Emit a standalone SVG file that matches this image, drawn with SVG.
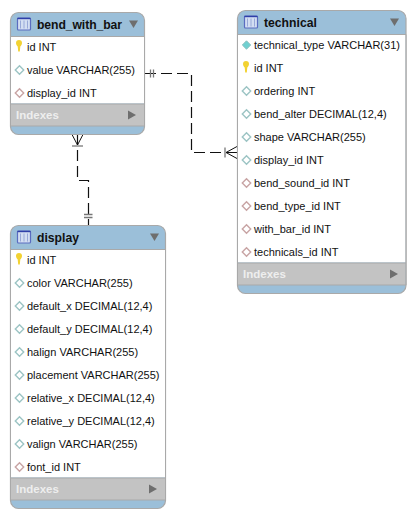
<svg xmlns="http://www.w3.org/2000/svg" width="415" height="518" viewBox="0 0 415 518">
<style>
.card{fill:#9bbfd9;stroke:#a9a9a9;stroke-width:1.2}
.body{fill:#fff}
.idx{fill:#c3c3c3}
.sep{stroke:#a9a9a9;stroke-width:1;fill:none}
.title{font:bold 12.2px "Liberation Sans",Arial,sans-serif;fill:#111}
.col{font:11px "Liberation Sans",Arial,sans-serif;fill:#111}
.ix{font:bold 11.5px "Liberation Sans",Arial,sans-serif;fill:#eee}
.tri{fill:#6e6e6e}
.plain{fill:#fff;stroke:#9cc4c4;stroke-width:1.4}
.fk{fill:#fff;stroke:#c8a4a4;stroke-width:1.4}
.pk{fill:#6fd0d0;stroke:#8fc0c0;stroke-width:1}
.key{fill:#f2d232}
.icon{fill:#d3def2;stroke:#5a6cc0;stroke-width:1.2}
.iconl{stroke:#98a8d8;stroke-width:1;fill:none}
.dash{fill:none;stroke:#111;stroke-width:1.2;stroke-dasharray:11 5}
.solid{fill:none;stroke:#111;stroke-width:1}
.bar{fill:none;stroke:#777;stroke-width:1.3}
</style>
<defs>
<g id="ticon"><rect x="0.5" y="0.5" width="13" height="12" rx="1" class="icon"/><path d="M0.5 1H13.500" stroke="#2f3fa8" stroke-width="1.4" fill="none"/><path d="M3.500 3v8M7 3v8M10.500 3v8" class="iconl"/></g>
<g id="keyi"><path class="key" d="M-3 -3.600a3 3 0 0 1 6 0c0 2-1.300 2.600-1.700 3.600l-.5 5h-1.600l-.5-5c-.4-1-1.700-1.600-1.700-3.600z"/></g>
<path id="dia" d="M0 -4.200L4.200 0L0 4.200L-4.200 0Z"/>
</defs>
<g id="connectors">
<path class="dash" d="M145 73.500H191.500V152.500H237"/>
<path class="dash" d="M77.500 134V180.500H88.500V225"/>
<path class="bar" d="M150.500 69.500V77.500M153.500 69.500V77.500"/>
<path class="bar" d="M225 147.500V157.500"/>
<path class="solid" d="M237 146.500L226 152.500L237 158.500"/>
<path class="bar" d="M72 146H83"/>
<path class="solid" d="M72 134.500L77.500 145L83 134.500"/>
<path class="bar" d="M84 214.500H92.500M84 217.500H92.500"/>
</g>
<g id="bend_with_bar">
<rect class="card" x="10.500" y="12.500" width="134" height="122" rx="8"/>
<rect class="body" x="11" y="36.500" width="133" height="67"/>
<rect class="idx" x="11" y="104" width="133" height="22"/>
<path class="sep" d="M10.500 36.500H144.500M10.500 104H144.500M10.500 126H144.500M10.500 36.500V126M144.500 36.500V126"/>
<use href="#ticon" x="17" y="17.500"/>
<text class="title" x="37" y="28.500" textLength="85">bend_with_bar</text>
<path class="tri" d="M129 20.500H138L133.500 28Z"/>
<use href="#keyi" x="19" y="46.500"/><text class="col" x="27" y="51">id INT</text>
<use href="#dia" x="19.500" y="70" class="plain"/><text class="col" x="27" y="74">value VARCHAR(255)</text>
<use href="#dia" x="19.500" y="93" class="fk"/><text class="col" x="27" y="97">display_id INT</text>
<text class="ix" x="16" y="119">Indexes</text>
<path class="tri" d="M128 110.500L136 115L128 119.500Z"/>
</g>
<g id="technical">
<rect class="card" x="237.500" y="10.500" width="168.500" height="283" rx="8"/>
<rect class="body" x="238" y="34.500" width="167.500" height="228"/>
<rect class="idx" x="238" y="263" width="167.500" height="22"/>
<path class="sep" d="M237.500 34.500H406M237.500 263H406M237.500 285H406M237.500 34.500V285M406 34.500V285"/>
<use href="#ticon" x="244" y="15.500"/>
<text class="title" x="264" y="26.500">technical</text>
<path class="tri" d="M390 18.500H399L394.500 26Z"/>
<use href="#dia" x="246.500" y="45" class="pk"/><text class="col" x="254" y="49">technical_type VARCHAR(31)</text>
<use href="#keyi" x="246" y="67.500"/><text class="col" x="254" y="72">id INT</text>
<use href="#dia" x="246.500" y="91" class="plain"/><text class="col" x="254" y="95">ordering INT</text>
<use href="#dia" x="246.500" y="114" class="plain"/><text class="col" x="254" y="118">bend_alter DECIMAL(12,4)</text>
<use href="#dia" x="246.500" y="137" class="plain"/><text class="col" x="254" y="141">shape VARCHAR(255)</text>
<use href="#dia" x="246.500" y="160" class="plain"/><text class="col" x="254" y="164">display_id INT</text>
<use href="#dia" x="246.500" y="183" class="fk"/><text class="col" x="254" y="187">bend_sound_id INT</text>
<use href="#dia" x="246.500" y="206" class="fk"/><text class="col" x="254" y="210">bend_type_id INT</text>
<use href="#dia" x="246.500" y="229" class="fk"/><text class="col" x="254" y="233">with_bar_id INT</text>
<use href="#dia" x="246.500" y="252" class="fk"/><text class="col" x="254" y="256">technicals_id INT</text>
<text class="ix" x="243" y="278">Indexes</text>
<path class="tri" d="M390 269.500L398 274L390 278.500Z"/>
</g>
<g id="display">
<rect class="card" x="10.500" y="225.500" width="155" height="283" rx="8"/>
<rect class="body" x="11" y="249.500" width="154" height="228"/>
<rect class="idx" x="11" y="478" width="154" height="22"/>
<path class="sep" d="M10.500 249.500H165.500M10.500 478H165.500M10.500 500H165.500M10.500 249.500V500M165.500 249.500V500"/>
<use href="#ticon" x="17" y="230.500"/>
<text class="title" x="37" y="241.500">display</text>
<path class="tri" d="M150 233.500H159L154.500 241Z"/>
<use href="#keyi" x="19" y="259.500"/><text class="col" x="27" y="264">id INT</text>
<use href="#dia" x="19.500" y="283" class="plain"/><text class="col" x="27" y="287">color VARCHAR(255)</text>
<use href="#dia" x="19.500" y="306" class="plain"/><text class="col" x="27" y="310">default_x DECIMAL(12,4)</text>
<use href="#dia" x="19.500" y="329" class="plain"/><text class="col" x="27" y="333">default_y DECIMAL(12,4)</text>
<use href="#dia" x="19.500" y="352" class="plain"/><text class="col" x="27" y="356">halign VARCHAR(255)</text>
<use href="#dia" x="19.500" y="375" class="plain"/><text class="col" x="27" y="379">placement VARCHAR(255)</text>
<use href="#dia" x="19.500" y="398" class="plain"/><text class="col" x="27" y="402">relative_x DECIMAL(12,4)</text>
<use href="#dia" x="19.500" y="421" class="plain"/><text class="col" x="27" y="425">relative_y DECIMAL(12,4)</text>
<use href="#dia" x="19.500" y="444" class="plain"/><text class="col" x="27" y="448">valign VARCHAR(255)</text>
<use href="#dia" x="19.500" y="467" class="fk"/><text class="col" x="27" y="471">font_id INT</text>
<text class="ix" x="16" y="493">Indexes</text>
<path class="tri" d="M149 484.500L157 489L149 493.500Z"/>
</g>
</svg>
